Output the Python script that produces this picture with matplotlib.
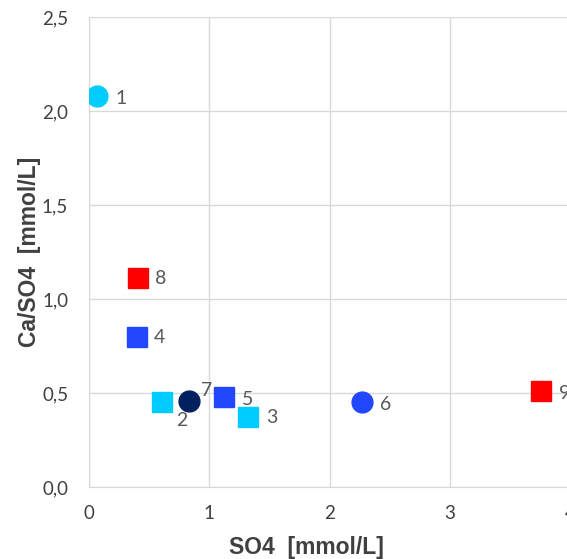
import matplotlib.pyplot as plt
import matplotlib.ticker as mticker

# sample data
labels = ['1', '2', '3', '4', '5', '6', '7', '8', '9']
so4 = [0.07, 0.61, 1.32, 0.40, 1.12, 2.27, 0.83, 0.41, 3.76]
ca_so4 = [2.08, 0.45, 0.37, 0.80, 0.48, 0.45, 0.46, 1.11, 0.51]
markers = ['o', 's', 's', 's', 's', 'o', 'o', 's', 's']
colors = ['#00CCFF', '#00CCFF', '#00CCFF', '#2346FF', '#2346FF',
          '#2346FF', '#002060', '#FF0000', '#FF0000']
# label offsets in points
offsets = [(13, -1.5), (10, -13), (13, 0), (12, -1), (13, -2),
           (13, -1.5), (9, 7), (12, 0), (13, -1.5)]

plt.rcParams['font.family'] = ['Lato', 'DejaVu Sans']

fig = plt.figure(figsize=(5.67, 5.59), dpi=100)
ax = fig.add_axes([89 / 567, 72 / 559, 481 / 567, 470 / 559])

for x, y, m, c, lab, off in zip(so4, ca_so4, markers, colors, labels, offsets):
    size = 15 if m == 'o' else 13.7
    ax.plot(x, y, marker=m, color=c, markersize=size, linestyle='none', zorder=3)
    ax.annotate(lab, (x, y), xytext=off, textcoords='offset points',
                fontsize=14, color='#595959', va='center', ha='left')

ax.set_xlim(0, 4)
ax.set_ylim(0, 2.5)
ax.xaxis.set_major_locator(mticker.MultipleLocator(1))
ax.yaxis.set_major_locator(mticker.MultipleLocator(0.5))
ax.yaxis.set_major_formatter(mticker.FuncFormatter(lambda v, p: f'{v:.1f}'.replace('.', ',')))
ax.grid(True, color='#D9D9D9', linewidth=1)
ax.set_axisbelow(True)
for s in ['top', 'right']:
    ax.spines[s].set_visible(False)
for s in ['left', 'bottom']:
    ax.spines[s].set_color('#D9D9D9')
ax.tick_params(length=0, labelsize=13.5, colors='#404040')
ax.tick_params(axis='x', pad=13)
ax.tick_params(axis='y', pad=15)

ax.set_xlabel('SO4  [mmol/L]', fontsize=16.5, fontweight='bold', color='#404040',
              family='Liberation Sans')
ax.set_ylabel('Ca/SO4  [mmol/L]', fontsize=16.5, fontweight='bold', color='#404040',
              family='Liberation Sans')
ax.xaxis.set_label_coords(0.452, -0.104)
ax.yaxis.set_label_coords(-0.10, 0.5)

fig.savefig('out.png', dpi=100)
